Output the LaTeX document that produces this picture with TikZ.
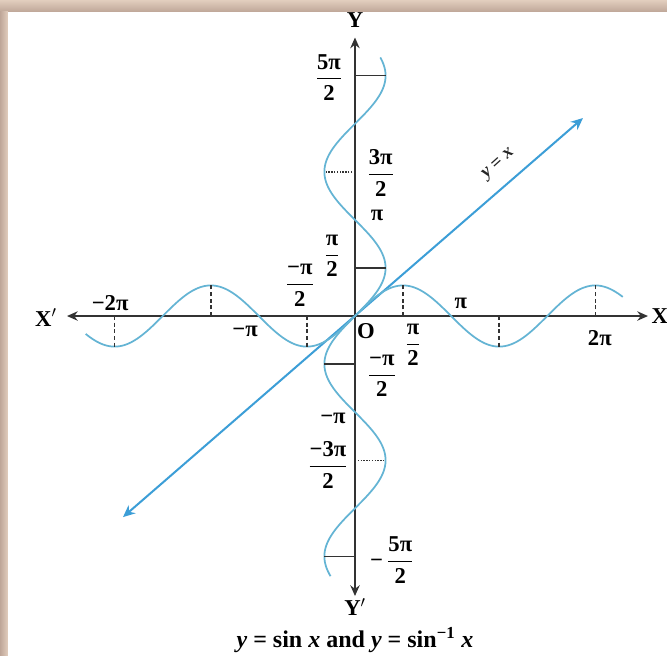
\documentclass[tikz,border=0pt]{standalone}
\usepackage{amsmath}
\usepackage{fontspec}
\setmainfont{Liberation Serif}
\usetikzlibrary{arrows.meta}
\definecolor{sinblue}{RGB}{100,180,212}
\definecolor{lineblue}{RGB}{60,158,215}
\definecolor{bandtop}{RGB}{226,206,190}
\definecolor{bandlow}{RGB}{190,166,152}
\tikzstyle{lbl}=[inner sep=1pt,font=\fontsize{17}{18}\selectfont\bfseries]
\tikzstyle{axis}=[{Stealth[length=8pt,width=7pt]}-{Stealth[length=8pt,width=7pt]}, line width=1.5pt, black!80]
\tikzstyle{diag}=[{Stealth[length=9pt,width=8pt]}-{Stealth[length=9pt,width=8pt]}, line width=1.5pt, lineblue]
\tikzstyle{curve}=[sinblue, line width=1.3pt, smooth, samples=250, variable=\t]
\tikzstyle{tick}=[black!80, line width=1.1pt]
\newcommand{\fr}[2]{$\genfrac{}{}{0.8pt}{0}{\hbox{#1}}{\hbox{#2}}$}

\begin{document}
\begin{tikzpicture}[x=22.95pt,y=22.95pt]
\useasboundingbox (-11.60,-11.078) rectangle (10.196,10.327);
\fill[white] (-11.60,-11.078) rectangle (10.196,10.327);
\shade[top color=bandtop,bottom color=bandlow] (-11.60,9.935) rectangle (10.196,10.327);
\shade[left color=bandlow,right color=bandtop] (-11.60,-11.078) rectangle (-11.34,9.935);
% axes
\coordinate (xleft) at (-9.41,0);
\coordinate (xright) at (9.575,0);
\coordinate (ytop) at (0,9.10);
\coordinate (ybot) at (0,-9.15);
\draw[axis] (xleft) -- (xright);
\draw[axis] (ybot) -- (ytop);
% y = x
\coordinate (yxlow) at (-7.58,-6.57);
\coordinate (yxhigh) at (7.45,6.47);
\draw[diag] (yxlow) -- (yxhigh);
% the two curves
\draw[curve,domain=-8.8:8.75] plot (\t,{sin(\t r)});
\draw[curve,domain=-8.5:8.45] plot ({sin(\t r)},\t);
\foreach \k in {-5,-3,-1,1,3,5}
  \draw[tick,densely dashed] ({\k*pi/2},0) -- ({\k*pi/2},{sin(\k*90)});
\foreach \k in {-5,-1,1,5}
  \draw[tick] (0,{\k*pi/2}) -- ({sin(\k*90)},{\k*pi/2});
\foreach \k in {-3,3}
  \draw[tick,densely dotted] (0,{\k*pi/2}) -- ({sin(\k*90)},{\k*pi/2});
% labels
\node[lbl] (Xa) at (-10.10,-0.05) {X$'$};
\node[lbl,anchor=west] (Xb) at (9.64,0) {X};
\node[lbl] (Ya) at (0,9.67) {Y};
\node[lbl] (Yb) at (0,-9.51) {Y$'$};
\node[lbl] (O) at (0.36,-0.49) {O};
\node[lbl] (mtwopi) at (-8.0,0.42) {−2π};
\node[lbl] (mpi) at (-3.59,-0.49) {−π};
\node[lbl] (pix) at (3.46,0.42) {π};
\node[lbl] (twopi) at (8.0,-0.72) {2π};
\node[lbl] (mhalfx) at (-1.80,1.01) {\fr{−π}{2}};
\node[lbl] (halfx) at (1.90,-0.95) {\fr{π}{2}};
\node[lbl] (fivehalf) at (-0.85,7.80) {\fr{5π}{2}};
\node[lbl] (threehalf) at (0.84,4.68) {\fr{3π}{2}};
\node[lbl] (piy) at (0.72,3.30) {π};
\node[lbl] (halfy) at (-0.75,1.96) {\fr{π}{2}};
\node[lbl] (mhalfy) at (0.88,-1.96) {\fr{−π}{2}};
\node[lbl] (mpiy) at (-0.72,-3.33) {−π};
\node[lbl] (mthreehalf) at (-0.88,-4.87) {\fr{−3π}{2}};
\node[lbl] (mfivehalf) at (1.21,-7.97) {−\,\fr{5π}{2}};
\node[lbl,font=\fontsize{14}{14}\selectfont\bfseries\itshape,text=black!85,rotate=42] (yxlbl) at (4.70,4.95) {y = x};
\node[lbl,font=\fontsize{18}{19}\selectfont\bfseries] (caption) at (0,-10.59)
  {\textit{y} = sin \textit{x} and \textit{y} = sin\textsuperscript{−1} \textit{x}};
\end{tikzpicture}
\end{document}
